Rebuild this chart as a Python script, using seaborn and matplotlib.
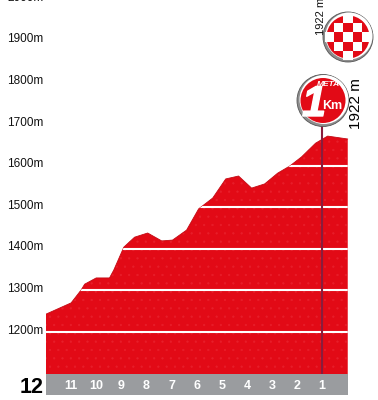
import numpy as np
import pandas as pd
import seaborn as sns
import matplotlib
matplotlib.use("Agg")
import matplotlib.pyplot as plt
import matplotlib.patheffects as pe
from matplotlib.patches import Circle, Rectangle
from matplotlib.transforms import ScaledTranslation

# perfil de la etapa, km a meta / altitud
km = [12.0, 11.0, 10.6, 10.46, 10.0, 9.47, 9.3, 8.9, 8.47, 7.95, 7.39, 6.96, 6.4, 5.92,
      5.36, 4.84, 4.33, 3.81, 3.29, 2.77, 2.29, 1.82, 1.26, 0.78, -0.02]
alt = [1243, 1270, 1301, 1315, 1330, 1330, 1349, 1404, 1428, 1438, 1419, 1421, 1445, 1496,
       1522, 1568, 1575, 1546, 1556, 1582, 1599, 1621, 1654, 1671, 1664]
km_ticks = [11, 10, 9, 8, 7, 6, 5, 4, 3, 2, 1]
alt_ticks = [1200, 1300, 1400, 1500, 1600, 1700, 1800, 1900, 2000]
grid_alt = [1200, 1300, 1400, 1500, 1600]
base_alt = 1098
summit_label = "1922 m"

RED = "#e20a16"
sns.set_theme(style="white")
plt.rcParams["font.family"] = ["Liberation Sans", "DejaVu Sans"]
plt.rcParams["hatch.linewidth"] = 0.4

df = pd.DataFrame({"km": km, "alt": alt})
W, H = 378, 400
fig = plt.figure(figsize=(W / 100, H / 100), dpi=100)
ax = fig.add_axes([46 / W, 5 / H, 303 / W, 407 / H])
ax.set_xlim(12.0, -0.07)
ax.set_ylim(1048.6, 2027)

# relleno con textura suave
poly = ax.fill_between(km, alt, base_alt, facecolor=RED, edgecolor="#e81e2a", hatch="..", linewidth=0)
sns.lineplot(data=df, x="km", y="alt", color="#c40a14", linewidth=0.6, ax=ax)

# franja gris de kilometros
ax.add_patch(Rectangle((12.0, 1048.6), -12.02, base_alt - 1048.6, facecolor="#9a9c9f", edgecolor="none"))

clip = poly.get_paths()[0]
for a in grid_alt:
    ln = ax.axhline(a, color="white", linewidth=1.5)
    ln.set_clip_path(clip, ax.transData)
ax.vlines(1, base_alt, 1695, color="#8a1c3c", linewidth=1.5)

ax.set_axisbelow(False)
ax.set_xlabel("")
ax.set_ylabel("")
ax.set_xticks(km_ticks)
ax.set_xticklabels([str(k) for k in km_ticks], fontsize=9, fontweight="bold", color="white")
ax.tick_params(axis="x", length=0, pad=-10.5, direction="in")
ax.set_yticks(alt_ticks)
ax.set_yticklabels([f"{a}m" for a in alt_ticks], fontsize=8.5, color="#111111")
ax.tick_params(axis="y", length=0, pad=2)
up = ScaledTranslation(0, 3 / 100, fig.dpi_scale_trans)
for lab in ax.get_yticklabels():
    lab.set_transform(lab.get_transform() + up)
sns.despine(ax=ax, left=True, bottom=True)
ax.patch.set_alpha(0)
ax.text(12.08, 1067, "12", ha="right", va="center", fontsize=15.5, fontweight="bold", color="black")

# medallas, en pixeles
dec = fig.add_axes([0, 0, 1, 1])
dec.set_xlim(0, W)
dec.set_ylim(H, 0)
dec.axis("off")


def medal(cx, cy, r):
    dec.add_patch(Circle((cx, cy), r, facecolor="#8d8d8d", edgecolor="#555555", linewidth=0.6))
    dec.add_patch(Circle((cx + 1, cy - 1), r - 1.5, facecolor="white", edgecolor="none"))
    inner = Circle((cx, cy), r - 3.5, facecolor=RED, edgecolor="none")
    dec.add_patch(inner)
    return inner


# bandera de meta
cx, cy = 348, 37
medal(cx, cy, 25)
cell = 9.3
for i in range(-2, 3):
    for j in range(-2, 3):
        if (i + j) % 2 == 0 and abs(i) + abs(j) < 4:
            dec.add_patch(Rectangle((cx + (i - 0.5) * cell, cy + (j - 0.5) * cell), cell, cell,
                                    facecolor="white", edgecolor="none"))

# ultimo km
medal(323, 100.5, 26)
dec.text(314, 105, "1", ha="center", va="center", fontsize=31, fontweight="bold", style="italic", color="white",
         path_effects=[pe.withStroke(linewidth=1, foreground="white")])
dec.text(328.5, 84.5, "META", ha="center", va="center", fontsize=6, fontweight="bold", style="italic", color="white")
dec.text(332.5, 106, "Km", ha="center", va="center", fontsize=9, fontweight="bold", color="white")

dec.text(356, 129, summit_label, rotation=90, ha="center", va="bottom", fontsize=11, color="black")
dec.text(320.5, 35, summit_label, rotation=90, ha="center", va="bottom", fontsize=8, color="#111111")

fig.savefig("out.png", dpi=100)
